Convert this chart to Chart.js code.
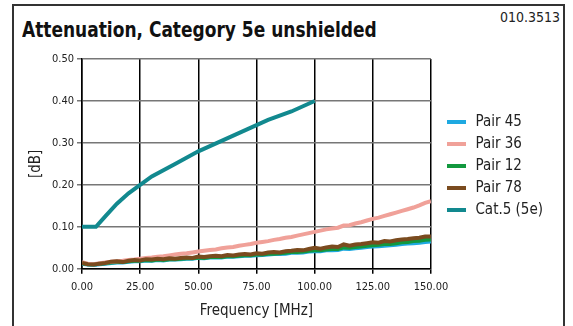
<!DOCTYPE html>
<html>
<head>
<meta charset="utf-8">
<script src="https://cdn.jsdelivr.net/npm/chart.js@4"></script>
<style>
	body { margin: 0; background: #fff; font-family: "DejaVu Sans Condensed", sans-serif; }
	#frame { position: absolute; left: 12px; top: 4px; width: 549px; height: 340px; border: 2px solid #333; }
	#title { position: absolute; left: 22px; top: 17px; font-size: 22px; font-weight: bold; color: #111; white-space: nowrap; transform: scaleX(0.86); transform-origin: left top; }
	#code { position: absolute; right: 13px; top: 9px; font-size: 14px; color: #222; }
	#wrap { position: absolute; left: 14px; top: 44px; width: 547px; height: 282px; }
</style>
</head>
<body>
<div id="frame"></div>
<div id="title">Attenuation, Category 5e unshielded</div>
<div id="code">010.3513</div>
<div id="wrap"><canvas id="attChart"></canvas></div>
<script>
'use strict';

// frequency points of the measured pairs [MHz]
const freq = [0, 2.5, 5, 7.5, 10, 12.5, 15, 17.5, 20, 22.5, 25, 27.5, 30, 32.5, 35, 37.5, 40, 42.5, 45, 47.5,
	50, 52.5, 55, 57.5, 60, 62.5, 65, 67.5, 70, 72.5, 75, 77.5, 80, 82.5, 85, 87.5, 90, 92.5, 95, 97.5,
	100, 102.5, 105, 107.5, 110, 112.5, 115, 117.5, 120, 122.5, 125, 127.5, 130, 132.5, 135, 137.5, 140, 142.5, 145, 147.5, 150];

const pair45 = [0.012, 0.010, 0.009, 0.011, 0.012, 0.014, 0.015, 0.015, 0.017, 0.018, 0.018, 0.020, 0.019, 0.021, 0.020, 0.022, 0.022, 0.023, 0.024, 0.024,
	0.026, 0.025, 0.027, 0.027, 0.027, 0.029, 0.029, 0.030, 0.031, 0.031, 0.032, 0.033, 0.034, 0.035, 0.035, 0.036, 0.038, 0.038, 0.039, 0.041,
	0.042, 0.042, 0.044, 0.044, 0.045, 0.048, 0.047, 0.049, 0.050, 0.052, 0.053, 0.054, 0.055, 0.056, 0.057, 0.059, 0.060, 0.061, 0.062, 0.064, 0.065];

const pair36 = [0.016, 0.012, 0.011, 0.013, 0.015, 0.017, 0.018, 0.019, 0.021, 0.022, 0.024, 0.026, 0.027, 0.029, 0.030, 0.032, 0.034, 0.036, 0.037, 0.039,
	0.041, 0.043, 0.045, 0.046, 0.049, 0.051, 0.052, 0.055, 0.057, 0.059, 0.062, 0.064, 0.066, 0.069, 0.071, 0.074, 0.076, 0.079, 0.082, 0.085,
	0.088, 0.091, 0.094, 0.096, 0.098, 0.103, 0.104, 0.108, 0.111, 0.115, 0.119, 0.122, 0.126, 0.130, 0.134, 0.138, 0.142, 0.146, 0.151, 0.157, 0.161];

const pair12 = [0.013, 0.011, 0.010, 0.012, 0.013, 0.015, 0.016, 0.016, 0.018, 0.019, 0.019, 0.021, 0.020, 0.022, 0.021, 0.023, 0.023, 0.024, 0.025, 0.025,
	0.027, 0.026, 0.028, 0.029, 0.028, 0.030, 0.030, 0.031, 0.032, 0.032, 0.034, 0.034, 0.036, 0.036, 0.037, 0.038, 0.040, 0.040, 0.041, 0.043,
	0.044, 0.044, 0.046, 0.047, 0.047, 0.051, 0.050, 0.052, 0.053, 0.055, 0.056, 0.057, 0.059, 0.059, 0.061, 0.063, 0.064, 0.066, 0.067, 0.069, 0.070];

const pair78 = [0.014, 0.011, 0.010, 0.012, 0.014, 0.017, 0.018, 0.016, 0.019, 0.021, 0.020, 0.023, 0.022, 0.024, 0.023, 0.025, 0.024, 0.026, 0.027, 0.026,
	0.029, 0.028, 0.030, 0.031, 0.030, 0.033, 0.032, 0.034, 0.035, 0.034, 0.037, 0.036, 0.039, 0.040, 0.039, 0.042, 0.043, 0.045, 0.044, 0.047,
	0.050, 0.048, 0.051, 0.053, 0.052, 0.058, 0.055, 0.058, 0.059, 0.061, 0.063, 0.062, 0.066, 0.065, 0.068, 0.070, 0.071, 0.073, 0.074, 0.077, 0.077];

// Cat.5 (5e) limit line
const catFreq = [0, 6, 10, 15, 20, 25, 30, 40, 50, 60, 70, 80, 90, 100];
const catLimit = [0.10, 0.10, 0.125, 0.155, 0.18, 0.20, 0.22, 0.25, 0.28, 0.305, 0.33, 0.355, 0.375, 0.40];

const xTicks = [0, 25, 50, 75, 100, 125, 150];
const yTicks = [0, 0.1, 0.2, 0.3, 0.4, 0.5];

const font = '"DejaVu Sans Condensed", sans-serif';

function pts(xs, ys) {
	return xs.map(function (x, i) { return { x: x, y: ys[i] }; });
}

function series(label, xs, ys, color, order) {
	return {
		label: label,
		data: pts(xs, ys),
		borderColor: color,
		backgroundColor: color,
		borderWidth: 4,
		pointRadius: 0,
		tension: 0,
		order: order
	};
}

// legend swatch: short bar with some blank room on its left
function swatch(color) {
	let c = document.createElement('canvas');
	c.width = 30;
	c.height = 4;
	let g = c.getContext('2d');
	g.fillStyle = color;
	g.fillRect(9, 0, 19, 4);
	return c;
}

let ctx = document.getElementById('attChart').getContext('2d');

let attChart = new Chart(ctx, {
	type: 'line',
	data: {
		datasets: [
			series('Pair 45', freq, pair45, '#1ea9e1', 5),
			series('Pair 36', freq, pair36, '#f0a199', 3),
			series('Pair 12', freq, pair12, '#12983e', 4),
			series('Pair 78', freq, pair78, '#7a4b1f', 2),
			series('Cat.5 (5e)', catFreq, catLimit, '#12898f', 1)
		]
	},
	options: {
		responsive: true,
		maintainAspectRatio: false,
		animation: false,
		layout: { padding: { left: 0, right: 8, top: 15, bottom: 4 } },
		plugins: {
			tooltip: { enabled: false },
			legend: {
				position: 'right',
				align: 'start',
				// blank title only pushes the entries down
				title: { display: true, text: ' ', font: { size: 10 }, padding: { top: 36.5, bottom: 0 } },
				labels: {
					font: { family: font, size: 15 },
					color: '#222',
					usePointStyle: true,
					pointStyleWidth: 30,
					boxHeight: 4,
					padding: 7,
					sort: function (a, b) { return a.datasetIndex - b.datasetIndex; },
					generateLabels: function (chart) {
						let items = Chart.defaults.plugins.legend.labels.generateLabels(chart);
						items.forEach(function (it) {
							it.lineWidth = 0;
							it.pointStyle = swatch(chart.data.datasets[it.datasetIndex].borderColor);
						});
						return items;
					}
				}
			}
		},
		scales: {
			x: {
				type: 'linear',
				min: 0,
				max: 150,
				afterBuildTicks: function (s) { s.ticks = xTicks.map(function (v) { return { value: v }; }); },
				ticks: {
					font: { family: font, size: 11 },
					color: '#222',
					maxRotation: 0,
					padding: 7,
					callback: function (v) { return v.toFixed(2); }
				},
				grid: { color: '#000', lineWidth: 1.5, tickLength: 5 },
				border: { color: '#000', width: 1.5 },
				title: { display: true, text: 'Frequency [MHz]', font: { family: font, size: 15 }, color: '#222', padding: { top: 1, bottom: 2 } }
			},
			y: {
				min: 0,
				max: 0.5,
				afterBuildTicks: function (s) { s.ticks = yTicks.map(function (v) { return { value: v }; }); },
				afterFit: function (s) { s.width = 68; },
				ticks: {
					font: { family: font, size: 11 },
					color: '#222',
					callback: function (v) { return v.toFixed(2); }
				},
				grid: { color: '#777', lineWidth: 1.5, tickLength: 5 },
				border: { color: '#000', width: 1.5 },
				title: { display: true, text: '[dB]', font: { family: font, size: 15 }, color: '#222', padding: { top: 13, bottom: 4 } }
			}
		}
	}
});
</script>
</body>
</html>
